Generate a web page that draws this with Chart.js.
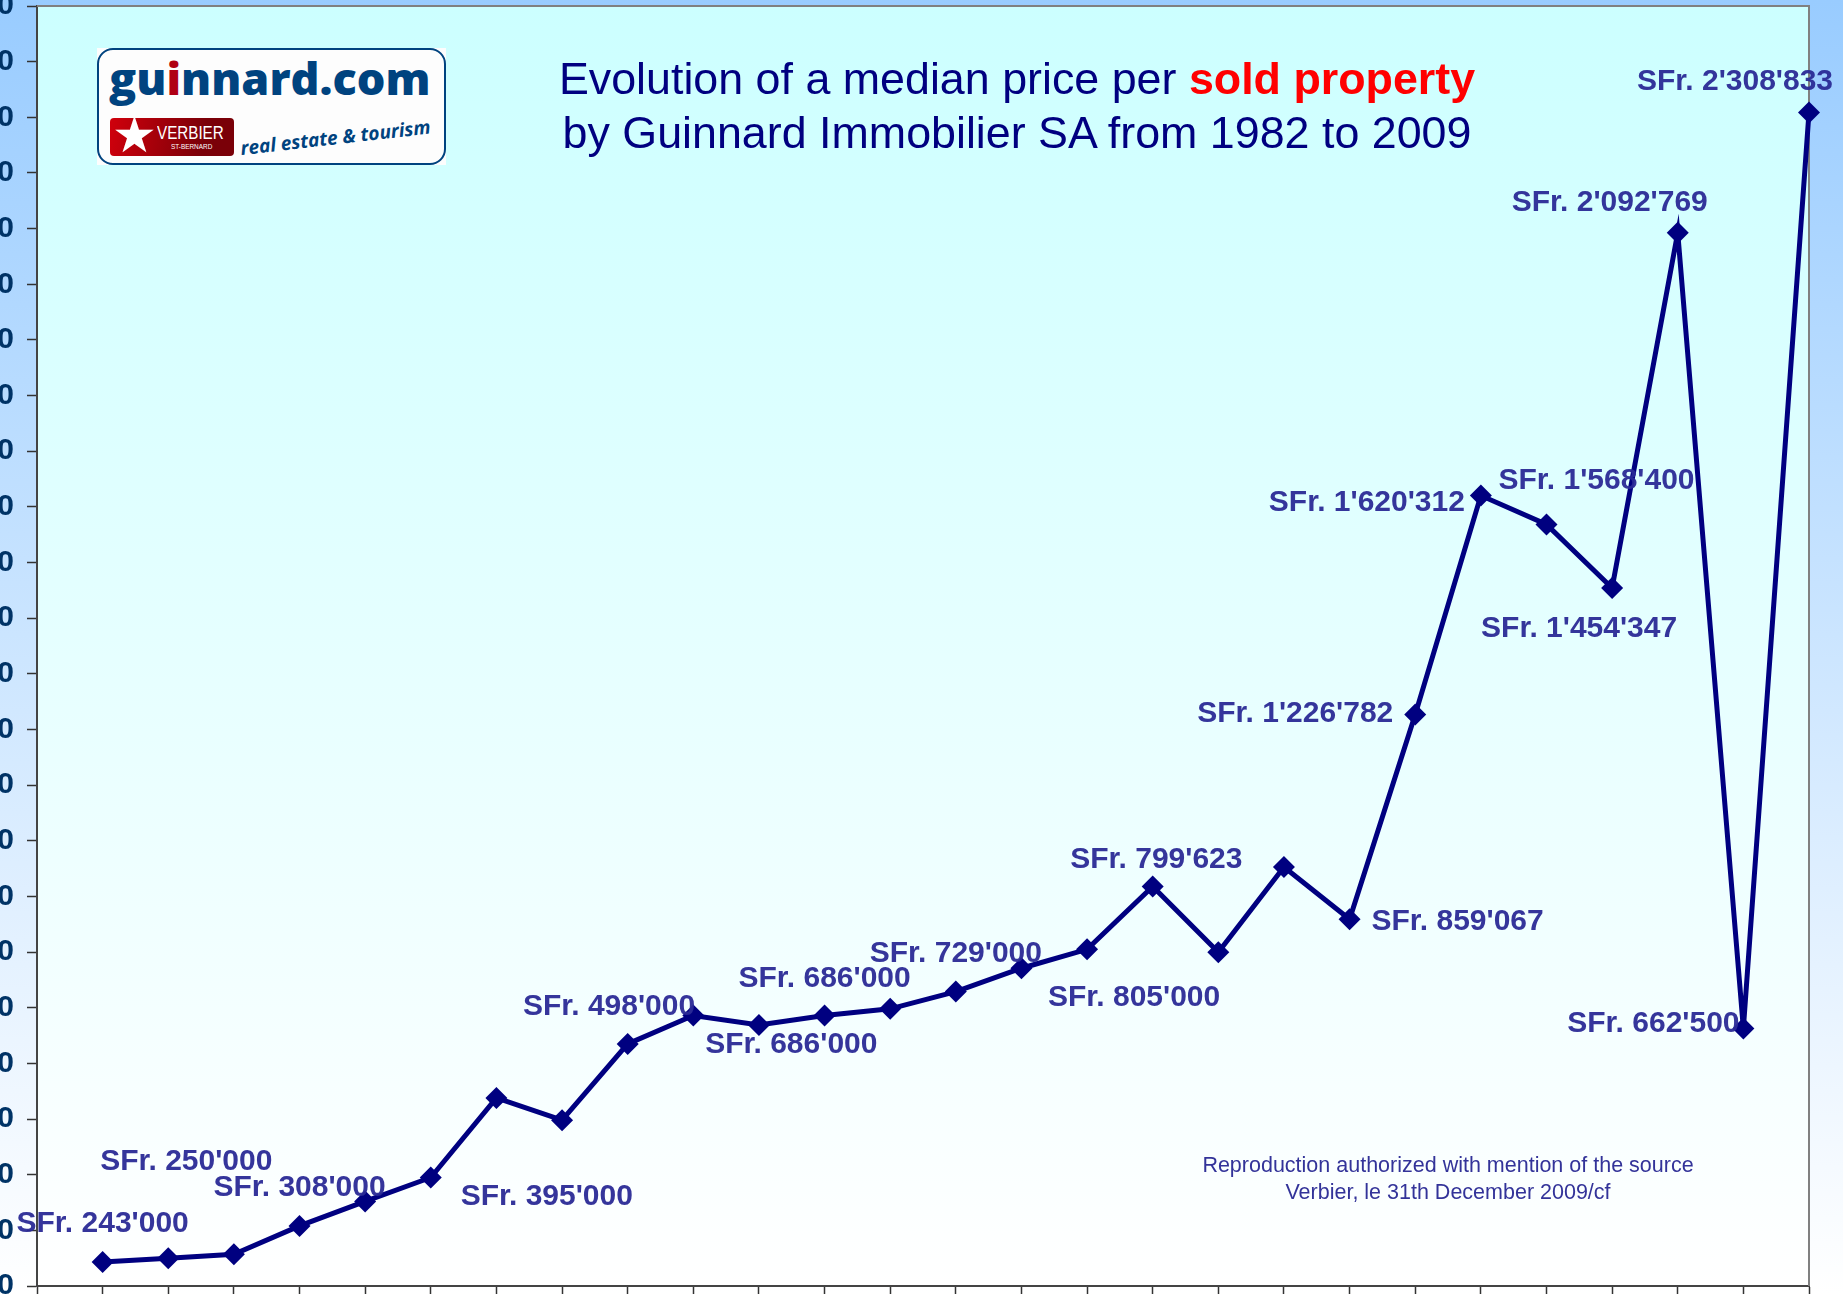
<!DOCTYPE html>
<html>
<head>
<meta charset="utf-8">
<script src="https://cdn.jsdelivr.net/npm/chart.js@4/dist/chart.umd.min.js"></script>
<style>
  html, body { margin: 0; padding: 0; }
  body {
    width: 1843px; height: 1294px; overflow: hidden; position: relative;
    background: linear-gradient(#99ccff, #ffffff);
    font-family: "Liberation Sans", Arial, sans-serif;
  }
  #chart { position: absolute; left: -150px; top: -30px; }
  #title {
    position: absolute; left: 417px; top: 51px; width: 1200px; text-align: center;
    font-size: 44.8px; line-height: 54px; color: #000080; white-space: nowrap;
  }
  #title b { color: #ff0000; }
  #note {
    position: absolute; left: 1048px; top: 1152px; width: 800px; text-align: center;
    font-size: 21.5px; line-height: 27px; color: #333399;
  }
  #logo { position: absolute; left: 97px; top: 48px; width: 349px; height: 117px; background: #fdfdfd; overflow: hidden; }
  #logo .frame { position: absolute; inset: 0; box-sizing: border-box; border: 2.5px solid #00437f; border-radius: 16px; }
  #logo .name {
    position: absolute; left: 12px; top: -1px; font: 800 45px "Open Sans", sans-serif;
    color: #00437f; white-space: nowrap;
  }
  #logo .name i { font-style: normal; color: #b00014; }
  #logo .badge {
    position: absolute; left: 13px; top: 70px; width: 124px; height: 38px; border-radius: 4px;
    background: linear-gradient(100deg, #d0000c, #7a0008 75%); color: #fff; overflow: hidden;
  }
  #logo .star { position: absolute; left: 2px; top: -7px; font-size: 50px; line-height: 48px; }
  #logo .v { position: absolute; left: 47px; top: 4px; font: 19px "Liberation Sans", sans-serif; transform: scaleX(0.8); transform-origin: left top; }
  #logo .s { position: absolute; left: 61px; top: 24px; font: 8px "Liberation Sans", sans-serif; transform: scaleX(0.8); transform-origin: left top; white-space: nowrap; }
  #logo .tag {
    position: absolute; left: 145px; top: 87px; font: italic 700 19px "Open Sans", sans-serif;
    color: #00437f; white-space: nowrap; transform: rotate(-6.5deg); transform-origin: left bottom;
  }
</style>
</head>
<body>
<canvas id="chart"></canvas>
<div id="logo">
  <div class="frame"></div>
  <div class="name">gu<i>i</i>nnard.com</div>
  <div class="badge"><span class="star">★</span><span class="v">VERBIER</span><span class="s">ST-BERNARD</span></div>
  <div class="tag">real estate &amp; tourism</div>
</div>
<div id="title">Evolution of a median price per <b>sold property</b><br>by Guinnard Immobilier SA from 1982 to 2009</div>
<div id="note">Reproduction authorized with mention of the source<br>Verbier, le 31th December 2009/cf</div>
<script>
const years = [1982, 1983, 1984, 1985, 1986, 1987, 1988, 1989, 1990, 1991, 1992, 1993, 1994, 1995,
  1996, 1997, 1998, 1999, 2000, 2001, 2002, 2003, 2004, 2005, 2006, 2007, 2008, 2009]
const prices = [null, 243000, 250000, 257000, 308000, 352000, 395000, 538000, 498000, 635000, 686000,
  669000, 686000, 698000, 729000, 771000, 805000, 918000, 799623, 953000, 859067, 1226782, 1620312,
  1568400, 1454347, 2092769, 662500, 2308833]
const priceLabels = [null, "SFr. 243'000", "SFr. 250'000", null, "SFr. 308'000", null, "SFr. 395'000", null,
  "SFr. 498'000", null, "SFr. 686'000", null, "SFr. 686'000", null, "SFr. 729'000", null, "SFr. 805'000", null,
  "SFr. 799'623", null, "SFr. 859'067", "SFr. 1'226'782", "SFr. 1'620'312", "SFr. 1'568'400", "SFr. 1'454'347",
  "SFr. 2'092'769", "SFr. 662'500", "SFr. 2'308'833"]
// label position relative to its point, in px
const labelOffsets = [null, [0, -38], [18, -96], null, [0, -38], null, [116, 19], null,
  [47, -113], null, [98, 29], null, [0, -37], null, [0, -38], null, [47, 48], null,
  [-62, -93], null, [108, 3], [-120, -1], [-114, 7], [50, -44], [-33, 41],
  [-68, -30], [-90, -5], [-74, -31]]

const plotBackground = {
  id: 'plotBackground',
  beforeDraw(chart) {
    const { ctx, chartArea: a } = chart
    const g = ctx.createLinearGradient(0, a.top, 0, a.bottom)
    g.addColorStop(0, '#ccffff')
    g.addColorStop(1, '#ffffff')
    ctx.save()
    ctx.fillStyle = g
    ctx.fillRect(a.left, a.top, a.width, a.height)
    ctx.restore()
  },
  beforeDatasetsDraw(chart) {
    const { ctx, chartArea: a } = chart
    ctx.save()
    ctx.strokeStyle = '#808080'
    ctx.lineWidth = 2
    ctx.beginPath()
    ctx.moveTo(a.left, a.top)
    ctx.lineTo(a.right, a.top)
    ctx.lineTo(a.right, a.bottom)
    ctx.stroke()
    ctx.restore()
  }
}

const priceLabelsPlugin = {
  id: 'priceLabels',
  afterDatasetsDraw(chart) {
    const { ctx } = chart
    const points = chart.getDatasetMeta(0).data
    ctx.save()
    ctx.font = 'bold 30px "Liberation Sans"'
    ctx.fillStyle = 'rgba(42, 42, 150, 0.95)'
    ctx.textAlign = 'center'
    ctx.textBaseline = 'middle'
    priceLabels.forEach((text, i) => {
      if (!text) return
      ctx.fillText(text, points[i].x + labelOffsets[i][0], points[i].y + labelOffsets[i][1])
    })
    ctx.restore()
  }
}

const canvas = document.querySelector('#chart')
canvas.width = 1993
canvas.height = 1364

new Chart(canvas, {
  type: 'line',
  data: {
    labels: years,
    datasets: [{
      data: prices,
      borderColor: '#000080',
      backgroundColor: '#000080',
      borderWidth: 5,
      tension: 0,
      clip: false,
      pointStyle: 'rectRot',
      pointRadius: 11,
      pointBackgroundColor: '#000080',
      pointBorderWidth: 0
    }]
  },
  options: {
    responsive: false,
    animation: false,
    layout: { padding: { top: 36, right: 34, bottom: 38, left: 0 } },
    plugins: { legend: { display: false }, tooltip: { enabled: false } },
    scales: {
      x: {
        type: 'category',
        offset: false,
        grid: { drawOnChartArea: false, tickLength: 10, tickColor: '#333333', tickWidth: 1.5 },
        border: { color: '#444444', width: 2 },
        ticks: { display: false, autoSkip: false }
      },
      y: {
        min: 200000,
        max: 2500000,
        afterFit(scale) { scale.width = 187 },
        grid: { drawOnChartArea: false, tickLength: 10, tickColor: '#333333', tickWidth: 1.5 },
        border: { color: '#444444', width: 2 },
        ticks: {
          stepSize: 100000,
          padding: 13,
          color: '#003366',
          font: { family: '"Liberation Sans"', size: 30, weight: 'bold' },
          callback: v => String(v).replace(/\B(?=(\d{3})+$)/g, "'")
        }
      }
    }
  },
  plugins: [plotBackground, priceLabelsPlugin]
})
</script>
</body>
</html>
